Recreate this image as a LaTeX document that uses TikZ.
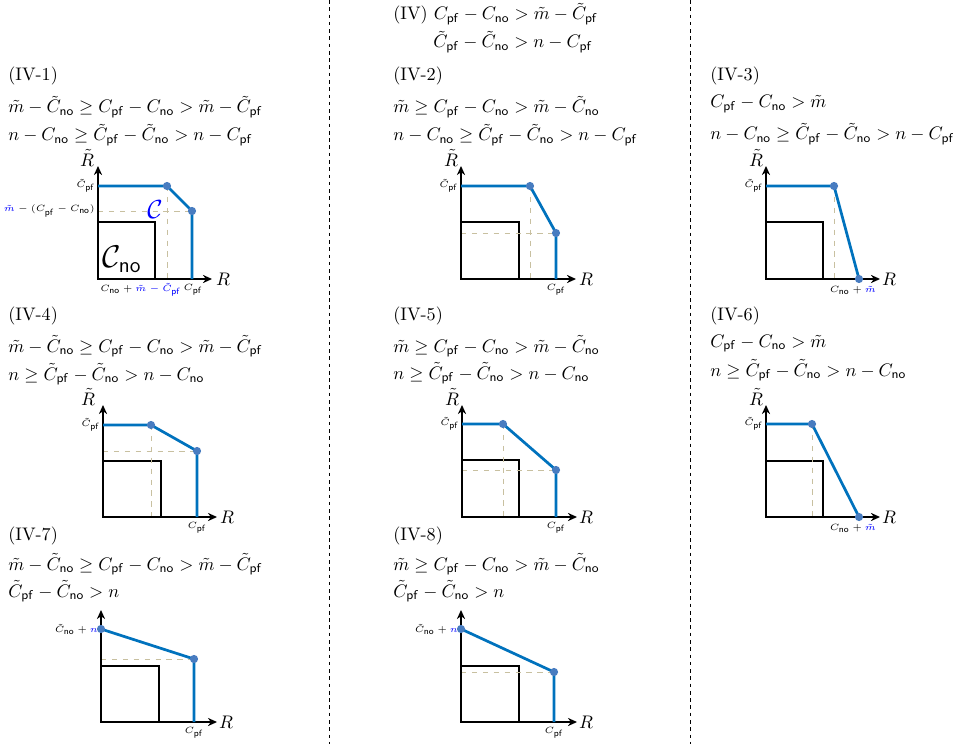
\documentclass[tikz,border=0pt]{standalone}
\usepackage{xcolor}
\usepackage{amsmath,amssymb}
\usepackage{tikz}
\usetikzlibrary{arrows.meta}
\definecolor{lineBlue}{RGB}{0,114,189}
\definecolor{dotBlue}{RGB}{72,124,192}
\definecolor{guideTan}{RGB}{200,192,160}
\newcommand{\Cpf}{C_{\mathsf{pf}}}
\newcommand{\Cno}{C_{\mathsf{no}}}
\newcommand{\tCpf}{\tilde{C}_{\mathsf{pf}}}
\newcommand{\tCno}{\tilde{C}_{\mathsf{no}}}

\begin{document}
\begin{tikzpicture}[x=0.55pt,y=-0.55pt,
		axis/.style={line width=1pt,-{Stealth[length=5pt,width=4.5pt]}},
		region/.style={line width=1.5pt},
		frontier/.style={lineBlue,line width=1.5pt,line join=round},
		guide/.style={guideTan,dashed,line width=0.4pt},
		corner/.style={circle,fill=dotBlue,inner sep=0pt,minimum size=4.5pt},
		tick/.style={font=\fontsize{5.4}{6.5}\selectfont,inner sep=1.5pt},
		case/.style={anchor=base west,inner sep=0pt}]
	\useasboundingbox (0,0) rectangle (953,744);
	\foreach \sx in {329,690}
		\draw[dash pattern=on 2pt off 2pt,line width=0.5pt] (\sx,0) -- (\sx,744);

	\node[case] (h0) at (393,20) {(IV) $\Cpf - \Cno > \tilde{m} - \tCpf$};
	\node[case] (h0b) at (433,48) {$\tCpf - \tCno > n - \Cpf$};

	\node[case] (h1) at (8,81) {(IV-1)};
	\node[case] (h1a) at (8,113) {$\tilde{m} - \tCno \geq \Cpf - \Cno > \tilde{m} - \tCpf$};
	\node[case] (h1b) at (8,141) {$n - \Cno \geq \tCpf - \tCno > n - \Cpf$};
	\node[case] (h2) at (393,81) {(IV-2)};
	\node[case] (h2a) at (393,113) {$\tilde{m} \geq \Cpf - \Cno > \tilde{m} - \tCno$};
	\node[case] (h2b) at (393,141) {$n - \Cno \geq \tCpf - \tCno > n - \Cpf$};
	\node[case] (h3) at (710,81) {(IV-3)};
	\node[case] (h3a) at (710,108) {$\Cpf - \Cno > \tilde{m}$};
	\node[case] (h3b) at (710,140) {$n - \Cno \geq \tCpf - \tCno > n - \Cpf$};
	\node[case] (h4) at (8,320) {(IV-4)};
	\node[case] (h4a) at (8,352) {$\tilde{m} - \tCno \geq \Cpf - \Cno > \tilde{m} - \tCpf$};
	\node[case] (h4b) at (8,380) {$n \geq \tCpf - \tCno > n - \Cno$};
	\node[case] (h5) at (393,320) {(IV-5)};
	\node[case] (h5a) at (393,352) {$\tilde{m} \geq \Cpf - \Cno > \tilde{m} - \tCno$};
	\node[case] (h5b) at (393,379) {$n \geq \tCpf - \tCno > n - \Cno$};
	\node[case] (h6) at (710,320) {(IV-6)};
	\node[case] (h6a) at (710,347) {$\Cpf - \Cno > \tilde{m}$};
	\node[case] (h6b) at (710,376) {$n \geq \tCpf - \tCno > n - \Cno$};
	\node[case] (h7) at (8,540) {(IV-7)};
	\node[case] (h7a) at (8,570) {$\tilde{m} - \tCno \geq \Cpf - \Cno > \tilde{m} - \tCpf$};
	\node[case] (h7b) at (8,597) {$\tCpf - \tCno > n$};
	\node[case] (h8) at (393,540) {(IV-8)};
	\node[case] (h8a) at (393,570) {$\tilde{m} \geq \Cpf - \Cno > \tilde{m} - \tCno$};
	\node[case] (h8b) at (393,597) {$\tCpf - \tCno > n$};

	\coordinate (o1) at (98,279);
	\coordinate (c1a) at (167,186);
	\coordinate (c1b) at (192,211);
	\draw[region] (o1) rectangle (155,222);
	\draw[guide] (o1 |- c1b) -- (c1b);
	\draw[guide] (c1a) -- (c1a |- o1);
	\draw[axis] (o1) -- (212,279);
	\draw[axis] (o1) -- (98,166);
	\draw[frontier] (o1 |- c1a) -- (c1a) -- (c1b) -- (c1b |- o1);
	\node[corner] (d1a) at (c1a) {};
	\node[corner] (d1b) at (c1b) {};
	\node (rt1) at (87,158) {$\tilde{R}$};
	\node (r1) at (223,279) {$R$};
	\node[tick,anchor=east] (l1a) at (o1 |- c1a) {$\tCpf$};
	\node[tick,anchor=east] (l1b) at (o1 |- c1b) {$\textcolor{blue}{\tilde{m}} - (\Cpf - \Cno)$};
	\node[tick,anchor=east] (l1c) at (184,290) {$\Cno + \textcolor{blue}{\tilde{m} - \tCpf}$};
	\node[tick] (l1d) at (193,290) {$\Cpf$};
	\node[blue] (cc1) at (155,210) {\Large$\mathcal{C}$};
	\node (cno1) at (122,259) {\LARGE$\mathcal{C}_{\mathsf{no}}$};

	\coordinate (o2) at (461,279);
	\coordinate (c2a) at (530,186);
	\coordinate (c2b) at (556,233);
	\draw[region] (o2) rectangle (519,222);
	\draw[guide] (o2 |- c2b) -- (c2b);
	\draw[guide] (c2a) -- (c2a |- o2);
	\draw[axis] (o2) -- (576,279);
	\draw[axis] (o2) -- (461,166);
	\draw[frontier] (o2 |- c2a) -- (c2a) -- (c2b) -- (c2b |- o2);
	\node[corner] (d2a) at (c2a) {};
	\node[corner] (d2b) at (c2b) {};
	\node (rt2) at (451,158) {$\tilde{R}$};
	\node (r2) at (586,279) {$R$};
	\node[tick,anchor=east] (l2a) at (o2 |- c2a) {$\tCpf$};
	\node[tick] (l2d) at (556,290) {$\Cpf$};

	\coordinate (o3) at (766,279);
	\coordinate (c3a) at (834,186);
	\coordinate (c3b) at (859,279);
	\draw[region] (o3) rectangle (823,222);
	\draw[guide] (c3a) -- (c3a |- o3);
	\draw[axis] (o3) -- (880,279);
	\draw[axis] (o3) -- (766,166);
	\draw[frontier] (o3 |- c3a) -- (c3a) -- (c3b);
	\node[corner] (d3a) at (c3a) {};
	\node[corner] (d3b) at (c3b) {};
	\node (rt3) at (756,158) {$\tilde{R}$};
	\node (r3) at (889,279) {$R$};
	\node[tick,anchor=east] (l3a) at (o3 |- c3a) {$\tCpf$};
	\node[tick] (l3d) at (853,290) {$\Cno + \textcolor{blue}{\tilde{m}}$};

	\coordinate (o4) at (103,517);
	\coordinate (c4a) at (151,425);
	\coordinate (c4b) at (197,451);
	\draw[region] (o4) rectangle (161,461);
	\draw[guide] (o4 |- c4b) -- (c4b);
	\draw[guide] (c4a) -- (c4a |- o4);
	\draw[axis] (o4) -- (217,517);
	\draw[axis] (o4) -- (103,405);
	\draw[frontier] (o4 |- c4a) -- (c4a) -- (c4b) -- (c4b |- o4);
	\node[corner] (d4a) at (c4a) {};
	\node[corner] (d4b) at (c4b) {};
	\node (rt4) at (88,397) {$\tilde{R}$};
	\node (r4) at (227,517) {$R$};
	\node[tick,anchor=east] (l4a) at (o4 |- c4a) {$\tCpf$};
	\node[tick] (l4d) at (197,528) {$\Cpf$};

	\coordinate (o5) at (462,517);
	\coordinate (c5a) at (503,424);
	\coordinate (c5b) at (556,470);
	\draw[region] (o5) rectangle (519,460);
	\draw[guide] (o5 |- c5b) -- (c5b);
	\draw[guide] (c5a) -- (c5a |- o5);
	\draw[axis] (o5) -- (577,517);
	\draw[axis] (o5) -- (462,405);
	\draw[frontier] (o5 |- c5a) -- (c5a) -- (c5b) -- (c5b |- o5);
	\node[corner] (d5a) at (c5a) {};
	\node[corner] (d5b) at (c5b) {};
	\node (rt5) at (452,397) {$\tilde{R}$};
	\node (r5) at (586,517) {$R$};
	\node[tick,anchor=east] (l5a) at (o5 |- c5a) {$\tCpf$};
	\node[tick] (l5d) at (556,528) {$\Cpf$};

	\coordinate (o6) at (766,517);
	\coordinate (c6a) at (812,424);
	\coordinate (c6b) at (859,517);
	\draw[region] (o6) rectangle (823,461);
	\draw[guide] (c6a) -- (c6a |- o6);
	\draw[axis] (o6) -- (880,517);
	\draw[axis] (o6) -- (766,405);
	\draw[frontier] (o6 |- c6a) -- (c6a) -- (c6b);
	\node[corner] (d6a) at (c6a) {};
	\node[corner] (d6b) at (c6b) {};
	\node (rt6) at (756,397) {$\tilde{R}$};
	\node (r6) at (889,517) {$R$};
	\node[tick,anchor=east] (l6a) at (o6 |- c6a) {$\tCpf$};
	\node[tick] (l6d) at (853,528) {$\Cno + \textcolor{blue}{\tilde{m}}$};

	\coordinate (o7) at (101,722);
	\coordinate (c7a) at (101,629);
	\coordinate (c7b) at (194,659);
	\draw[region] (o7) rectangle (159,666);
	\draw[guide] (o7 |- c7b) -- (c7b);
	\draw[axis] (o7) -- (217,722);
	\draw[axis] (o7) -- (101,610);
	\draw[frontier] (c7a) -- (c7b) -- (c7b |- o7);
	\node[corner] (d7a) at (c7a) {};
	\node[corner] (d7b) at (c7b) {};
	\node (r7) at (226,722) {$R$};
	\node[tick,anchor=east] (l7a) at (c7a) {$\tCno + \textcolor{blue}{n}$};
	\node[tick] (l7d) at (194,733) {$\Cpf$};

	\coordinate (o8) at (461,722);
	\coordinate (c8a) at (461,629);
	\coordinate (c8b) at (554,672);
	\draw[region] (o8) rectangle (519,666);
	\draw[guide] (o8 |- c8b) -- (c8b);
	\draw[axis] (o8) -- (577,722);
	\draw[axis] (o8) -- (461,610);
	\draw[frontier] (c8a) -- (c8b) -- (c8b |- o8);
	\node[corner] (d8a) at (c8a) {};
	\node[corner] (d8b) at (c8b) {};
	\node (r8) at (586,722) {$R$};
	\node[tick,anchor=east] (l8a) at (c8a) {$\tCno + \textcolor{blue}{n}$};
	\node[tick] (l8d) at (554,733) {$\Cpf$};
\end{tikzpicture}
\end{document}
